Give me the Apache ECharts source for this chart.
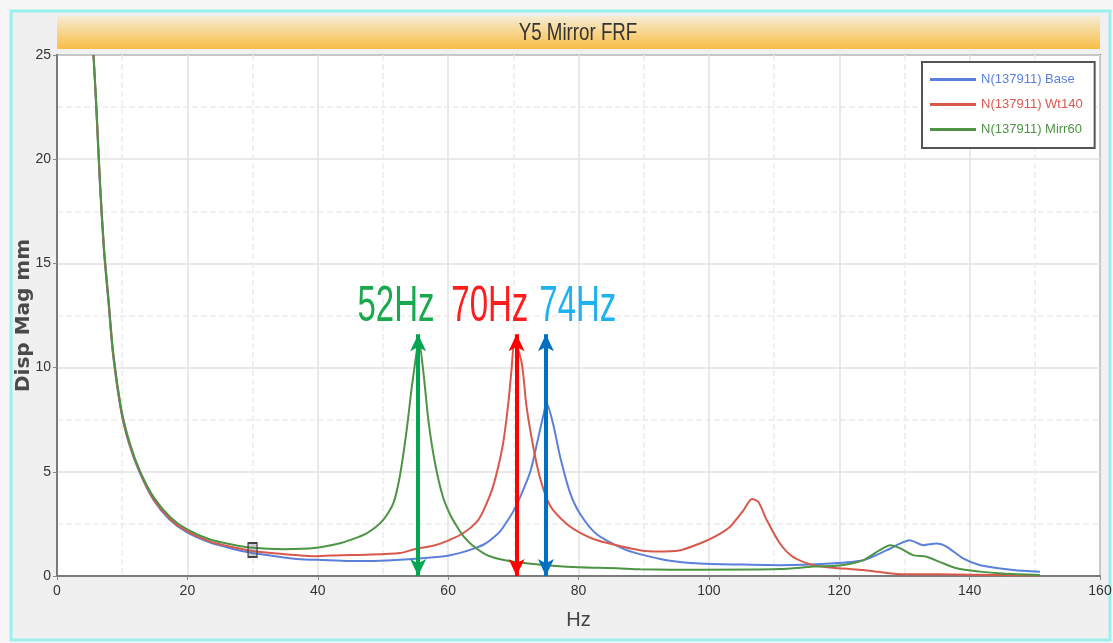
<!DOCTYPE html>
<html>
<head>
<meta charset="utf-8">
<title>Y5 Mirror FRF</title>
<script src="https://cdn.jsdelivr.net/npm/echarts@6/dist/echarts.min.js"></script>
<style>
    html, body { margin: 0; padding: 0; background: #f7f7f7; }
    #frf { width: 1113px; height: 643px; }
</style>
</head>
<body>
<div id="frf"></div>
<script>
// 1、曲线数据 (Hz, Disp Mag mm)
var baseFreq = [5.6, 6, 6.6, 7.2, 7.9, 8.6, 9.9, 11.2, 12.7, 14.8, 17.3, 19.9, 23.5, 27, 30, 34, 37.3, 40, 44.9, 48, 52.6, 56, 58.7, 60.3, 62, 63.8, 65.4, 66.4, 68, 69, 70, 71, 72.6, 73.8, 74.6, 75.1, 76.1, 77.2, 78.7, 80.2, 82.8, 86.9, 89.4, 93.5, 98.6, 105, 110.9, 118.6, 123.7, 127.3, 130.8, 132.9, 134.9, 136.5, 139, 141.6, 146.7, 150.8];
var baseVal = [25, 22.6, 18.7, 15.6, 13.1, 10.6, 7.8, 6.2, 4.95, 3.65, 2.7, 2.1, 1.6, 1.3, 1.1, 0.92, 0.8, 0.78, 0.72, 0.72, 0.78, 0.85, 0.92, 1.0, 1.12, 1.3, 1.5, 1.7, 2.15, 2.6, 3.1, 3.75, 5.0, 6.6, 7.7, 8.3, 7.3, 5.7, 4.0, 3.0, 2.0, 1.3, 1.05, 0.76, 0.6, 0.55, 0.52, 0.6, 0.76, 1.24, 1.72, 1.48, 1.56, 1.4, 0.84, 0.52, 0.29, 0.2];

var wtFreq = [5.6, 6, 6.6, 7.2, 7.9, 8.6, 9.9, 11.2, 12.7, 14.8, 17.3, 19.9, 23.5, 27, 30, 34.7, 39.8, 43.4, 47.5, 52.6, 55, 57.7, 60, 62.3, 64.4, 65.5, 66.9, 68.4, 69.2, 69.7, 70.2, 71.3, 72, 73, 74.1, 75.6, 78.2, 80.7, 83, 86.8, 89.4, 92, 95.6, 98.6, 101, 103.2, 105.3, 106.6, 107.6, 108.9, 110.9, 112.9, 116, 120, 123.7, 126, 128.8, 135, 145, 150.8];
var wtVal = [25, 22.7, 18.8, 15.7, 13.2, 10.7, 7.85, 6.25, 5.0, 3.7, 2.75, 2.15, 1.65, 1.38, 1.2, 1.05, 0.95, 1.0, 1.02, 1.1, 1.3, 1.45, 1.7, 2.05, 2.6, 3.2, 4.3, 6.3, 8.2, 9.8, 11.3, 10.2, 8.2, 6.3, 4.7, 3.4, 2.5, 2.0, 1.7, 1.4, 1.24, 1.17, 1.24, 1.56, 1.9, 2.35, 3.15, 3.7, 3.55, 2.67, 1.56, 0.92, 0.52, 0.37, 0.29, 0.2, 0.1, 0.08, 0.05, 0.03];

var mirrFreq = [5.6, 6, 6.6, 7.2, 7.9, 8.6, 9.9, 11.2, 12.7, 14.8, 17.3, 19.9, 23.5, 27, 30, 34.7, 39.8, 43.4, 44.9, 47.5, 50, 51.6, 52.6, 53.6, 54.4, 55.1, 55.5, 56.2, 57, 58, 59.2, 60.3, 61.3, 62.5, 63.8, 65.4, 66.4, 68, 70.5, 78.2, 85.9, 89.4, 98.6, 110.9, 116, 120, 123.7, 126.2, 127.8, 129.3, 131.3, 133.4, 135.4, 138, 141.6, 145, 150.8];
var mirrVal = [25, 22.8, 18.9, 15.8, 13.3, 10.8, 7.95, 6.35, 5.06, 3.8, 2.85, 2.25, 1.75, 1.5, 1.35, 1.28, 1.35, 1.57, 1.72, 2.05, 2.67, 3.5, 4.8, 6.9, 9.0, 10.6, 11.3, 9.8, 7.4, 5.4, 3.8, 2.95, 2.4, 1.85, 1.45, 1.1, 0.95, 0.8, 0.66, 0.44, 0.37, 0.32, 0.3, 0.33, 0.45, 0.5, 0.76, 1.24, 1.48, 1.34, 1.0, 0.92, 0.68, 0.37, 0.21, 0.12, 0.05];

// 2、共振峰标注
var peakNames = ['52Hz', '70Hz', '74Hz'];
var peakArrowFreq = [55.4, 70.5, 75.0];
var peakArrowTop = 11.6;
var peakTextFreq = [52.0, 66.4, 79.9];
var peakTextVal = 12.9;

var legendNames = ['N(137911) Base', 'N(137911) Wt140', 'N(137911) Mirr60'];
var lineColors = ['#5b80db', '#d9584c', '#4d9445'];
var arrowColors = ['#00a651', '#ff0000', '#0070c0'];
var textColors = ['#19a84c', '#ff1c1c', '#1fb2ef'];

var sansFont = '"Liberation Sans", Arial, sans-serif';

function pairs(xs, ys) {
    return xs.map(function (x, i) { return [x, ys[i]]; });
}

var myChart = echarts.init(document.getElementById('frf'));

// 箭头挂在对应曲线上：绿 52Hz，红 70Hz，蓝 74Hz
function arrowLine(i) {
    return {
        silent: true,
        symbol: ['arrow', 'arrow'],
        symbolSize: [12, 17],
        label: { show: false },
        lineStyle: { color: arrowColors[i], width: 4, type: 'solid' },
        emphasis: { disabled: true },
        data: [[{ coord: [peakArrowFreq[i], 0] }, { coord: [peakArrowFreq[i], peakArrowTop] }]]
    };
}

function lineSeries(i, xs, ys, arrowIdx) {
    return {
        name: legendNames[i],
        type: 'line',
        smooth: 0.25,
        showSymbol: false,
        lineStyle: { color: lineColors[i], width: 2 },
        itemStyle: { color: lineColors[i] },
        data: pairs(xs, ys),
        markLine: arrowLine(arrowIdx),
        z: 2 + i
    };
}

var mirrSeries = lineSeries(2, mirrFreq, mirrVal, 0);
// 30Hz 处的小方框光标
mirrSeries.markPoint = {
    silent: true,
    symbol: 'rect',
    symbolSize: [9, 14],
    itemStyle: { color: 'rgba(120,120,120,0.35)', borderColor: '#444', borderWidth: 1.5 },
    label: { show: false },
    data: [{ coord: [30, 1.25] }]
};

var option = {
    animation: false,
    backgroundColor: '#f7f7f7',
    graphic: [
        // 外框 (青色)
        {
            type: 'rect', z: -10,
            shape: { x: 11, y: 11, width: 1099, height: 629 },
            style: { fill: '#f0f0f0', stroke: '#9af0ec', lineWidth: 3 }
        },
        // 标题栏
        {
            type: 'rect', z: 5,
            shape: { x: 57, y: 16, width: 1043, height: 33 },
            style: {
                fill: new echarts.graphic.LinearGradient(0, 0, 0, 1, [
                    { offset: 0, color: '#f6ecd6' },
                    { offset: 1, color: '#f8bd44' }
                ])
            }
        },
        {
            type: 'text', z: 6,
            x: 578, y: 33, scaleX: 0.78,
            style: {
                text: 'Y5 Mirror FRF',
                fill: '#333333',
                font: '24px ' + sansFont,
                textAlign: 'center',
                textVerticalAlign: 'middle'
            }
        }
    ],
    grid: {
        left: 57, right: 13, top: 55, bottom: 67,
        outerBoundsMode: 'none',
        show: true,
        backgroundColor: '#ffffff',
        borderColor: '#7a7a7a',
        borderWidth: 2
    },
    legend: {
        orient: 'vertical',
        left: 922, top: 62,
        padding: [11, 12, 12, 8],
        itemGap: 12,
        itemWidth: 46,
        itemHeight: 3,
        icon: 'rect',
        backgroundColor: '#ffffff',
        borderColor: '#555555',
        borderWidth: 2,
        textStyle: { fontFamily: sansFont, fontSize: 13 },
        data: legendNames.map(function (n, i) {
            return { name: n, textStyle: { color: lineColors[i] } };
        })
    },
    xAxis: {
        type: 'value',
        min: 0, max: 160, interval: 20,
        name: 'Hz',
        nameLocation: 'middle',
        nameGap: 34,
        nameMoveOverlap: false,
        nameTextStyle: { color: '#444', fontSize: 20, fontFamily: sansFont },
        axisLine: { lineStyle: { color: '#7a7a7a', width: 2 } },
        axisTick: { show: true, length: 4, lineStyle: { color: '#888' } },
        axisLabel: { color: '#333', fontSize: 14, fontFamily: sansFont, margin: 8 },
        splitLine: { lineStyle: { color: '#e2e2e2', width: 1.5 } },
        minorTick: { show: false, splitNumber: 2 },
        minorSplitLine: { show: true, lineStyle: { color: '#ececec', type: 'dashed', width: 1.5 } }
    },
    yAxis: {
        type: 'value',
        min: 0, max: 25, interval: 5,
        name: 'Disp Mag mm',
        nameLocation: 'middle',
        nameGap: 23,
        nameMoveOverlap: false,
        nameTextStyle: { color: '#4a4a4a', fontSize: 20, fontWeight: 'bold', fontFamily: '"DejaVu Sans", sans-serif' },
        axisLine: { show: true, lineStyle: { color: '#7a7a7a', width: 2 } },
        axisTick: { show: true, length: 4, lineStyle: { color: '#888' } },
        axisLabel: { color: '#333', fontSize: 14, fontFamily: sansFont, margin: 6 },
        splitLine: { lineStyle: { color: '#e2e2e2', width: 1.5 } },
        minorTick: { show: false, splitNumber: 2 },
        minorSplitLine: { show: true, lineStyle: { color: '#ececec', type: 'dashed', width: 1.5 } }
    },
    series: [
        lineSeries(0, baseFreq, baseVal, 2),
        lineSeries(1, wtFreq, wtVal, 1),
        mirrSeries
    ]
};

myChart.setOption(option);

// 3、峰值文字：窄体字用横向缩放模拟，位置由坐标轴换算
var peakTexts = peakNames.map(function (n, i) {
    var p = myChart.convertToPixel({ gridIndex: 0 }, [peakTextFreq[i], peakTextVal]);
    return {
        type: 'text', z: 20, silent: true,
        x: p[0], y: p[1], scaleX: 0.66,
        style: {
            text: n,
            fill: textColors[i],
            font: '50px ' + sansFont,
            textAlign: 'center',
            textVerticalAlign: 'middle'
        }
    };
});
myChart.setOption({ graphic: option.graphic.concat(peakTexts) });
</script>
</body>
</html>
